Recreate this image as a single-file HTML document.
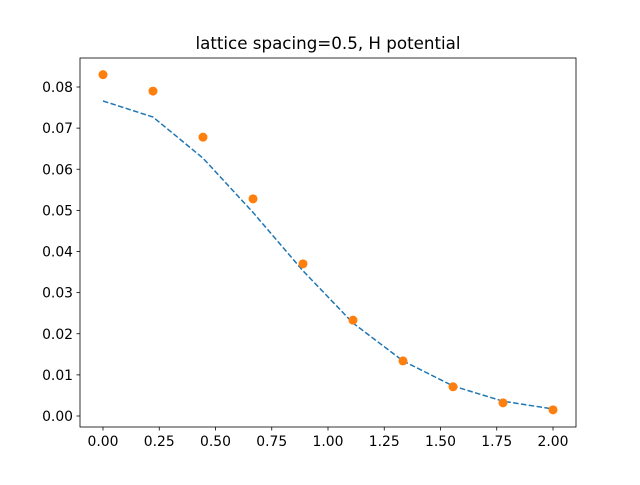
<!DOCTYPE html>
<html><head><meta charset="utf-8"><style>
body{margin:0;background:#fff}
svg text{font-family:"DejaVu Sans","Liberation Sans",sans-serif;font-size:13.9px;fill:#000}
</style></head><body>
<svg id="chart" width="640" height="480" xmlns="http://www.w3.org/2000/svg">
<rect width="640" height="480" fill="#fff"/>
<text x="328" y="49" text-anchor="middle" style="font-size:16.7px">lattice spacing=0.5, H potential</text>
<g id="marks"></g>
<rect x="80" y="58" width="496" height="369" fill="none" stroke="#000" stroke-width="0.8"/>
<g id="axes"></g>
</svg>
<script>
const xValues=[0,0.2222,0.4444,0.6667,0.8889,1.1111,1.3333,1.5556,1.7778,2.0];
const lineValues=[0.0766,0.0727,0.0627,0.0495,0.0353,0.0226,0.0134,0.0073,0.0036,0.0017];
const pointValues=[0.0830,0.0790,0.0678,0.0528,0.0370,0.0233,0.0134,0.0071,0.0032,0.0015];
const xTicks=[0,0.25,0.5,0.75,1.0,1.25,1.5,1.75,2.0];
const xTickLabels=["0.00","0.25","0.50","0.75","1.00","1.25","1.50","1.75","2.00"];
const yTicks=[0,0.01,0.02,0.03,0.04,0.05,0.06,0.07,0.08];
const yTickLabels=["0.00","0.01","0.02","0.03","0.04","0.05","0.06","0.07","0.08"];
const NS="http://www.w3.org/2000/svg";
const sx=v=>103+v*225;
const sy=v=>416-v*4112.5;
const marks=document.getElementById('marks'),axes=document.getElementById('axes');
function mk(t,a,p){const e=document.createElementNS(NS,t);for(const k in a)e.setAttribute(k,a[k]);p.appendChild(e);return e;}
const line=mk('polyline',{points:xValues.map((x,i)=>sx(x)+','+sy(lineValues[i])).join(' '),fill:'none',stroke:'#1f77b4','stroke-width':1.5,'stroke-dasharray':'5.5,2.4'},marks);


xValues.forEach((x,i)=>{const c=mk('circle',{cx:sx(x),cy:sy(pointValues[i]),r:4.5,fill:'#ff7f0e'},marks);

});
xTicks.forEach((t,i)=>{mk('line',{x1:sx(t),x2:sx(t),y1:427,y2:430.5,stroke:'#000','stroke-width':0.8},axes);
const tx=mk('text',{x:sx(t),y:446,'text-anchor':'middle'},axes);tx.textContent=xTickLabels[i];

});
yTicks.forEach((t,i)=>{mk('line',{x1:76.5,x2:80,y1:sy(t),y2:sy(t),stroke:'#000','stroke-width':0.8},axes);
const tx=mk('text',{x:73,y:sy(t)+5,'text-anchor':'end'},axes);tx.textContent=yTickLabels[i];

});
</script>
</body></html>
